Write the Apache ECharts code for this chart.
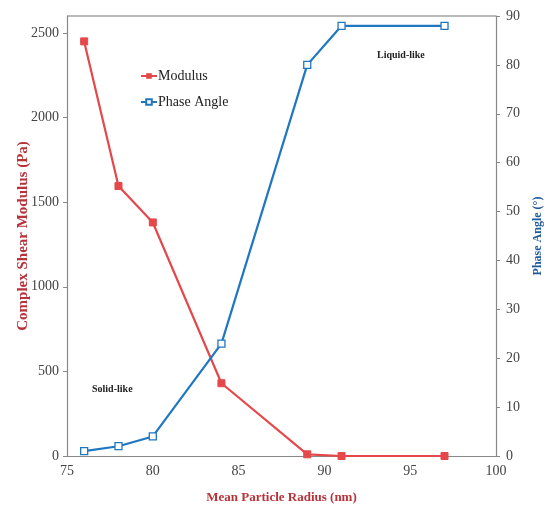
<!DOCTYPE html>
<html>
<head>
<meta charset="utf-8">
<script src="https://cdn.jsdelivr.net/npm/echarts@6/dist/echarts.min.js"></script>
<style>
  html, body { margin: 0; padding: 0; background: #fff; }
  #chart { width: 545px; height: 505px; }
</style>
</head>
<body>
<div id="chart"></div>
<script>
// radius (nm) of each sample
var radius = [76, 78, 80, 84, 89, 91, 97];
// complex shear modulus (Pa)
var modulus = [2450, 1595, 1380, 430, 10, 0, 0];
// phase angle (degrees)
var phaseAngle = [1, 2, 4, 23, 80, 88, 88];

var RED = '#e5484a';
var BLUE = '#1f77c0';
var FONT = '"Liberation Serif", "Times New Roman", serif';

var chart = echarts.init(document.getElementById('chart'));

var modData = radius.map(function (r, i) { return [r, modulus[i]]; });
var phaseData = radius.map(function (r, i) { return [r, phaseAngle[i]]; });

var option = {
    animation: false,
    backgroundColor: '#fff',
    grid: { left: 67, right: 49, top: 16, bottom: 49, containLabel: false, outerBoundsMode: 'none' },
    legend: {
        orient: 'vertical',
        left: 135,
        top: 64,
        itemGap: 12,
        itemWidth: 16,
        itemHeight: 7,
        textStyle: { fontFamily: FONT, fontSize: 14, color: '#222', padding: [0, 0, 0, -4] },
        data: ['Modulus', 'Phase Angle']
    },
    xAxis: {
        type: 'value',
        min: 75,
        max: 100,
        interval: 5,
        name: 'Mean Particle Radius (nm)',
        nameLocation: 'middle',
        nameGap: 35,
        nameMoveOverlap: false,
        nameTextStyle: { fontFamily: FONT, fontSize: 13, fontWeight: 'bold', color: '#b8323a' },
        axisLine: { show: true, lineStyle: { color: '#888', width: 1.2 } },
        axisTick: { show: false },
        axisLabel: { fontFamily: FONT, fontSize: 14, color: '#444', margin: 8 },
        splitLine: { show: false }
    },
    yAxis: [
        {
            type: 'value',
            min: 0,
            max: 2600,
            interval: 500,
            position: 'left',
            name: 'Complex Shear Modulus (Pa)',
            nameLocation: 'middle',
            nameGap: 36,
            nameMoveOverlap: false,
            nameTextStyle: { fontFamily: FONT, fontSize: 15, fontWeight: 'bold', color: '#b8323a' },
            axisLine: { show: true, lineStyle: { color: '#888', width: 1.2 } },
            axisTick: { show: true, length: 4, lineStyle: { color: '#888' } },
            axisLabel: {
                fontFamily: FONT, fontSize: 14, color: '#444', margin: 8, showMaxLabel: false,
                formatter: function (v) { return String(v); }
            },
            splitLine: { show: false }
        },
        {
            type: 'value',
            min: 0,
            max: 90,
            interval: 10,
            position: 'right',
            name: 'Phase Angle (°)',
            nameLocation: 'middle',
            nameGap: 36,
            nameMoveOverlap: false,
            nameTextStyle: { fontFamily: FONT, fontSize: 12, fontWeight: 'bold', color: '#1f5a9a' },
            axisLine: { show: true, lineStyle: { color: '#888', width: 1.2 } },
            axisTick: { show: true, length: 4, lineStyle: { color: '#888' } },
            axisLabel: { fontFamily: FONT, fontSize: 14, color: '#444', margin: 10 },
            splitLine: { show: false }
        }
    ],
    graphic: [
        // top border of the plot box
        { type: 'line', shape: { x1: 67, y1: 16, x2: 496, y2: 16 }, style: { stroke: '#777', lineWidth: 1.2 } },
        { type: 'text', left: 92, top: 384, style: { text: 'Solid-like', font: 'bold 10px ' + FONT, fill: '#222' } },
        { type: 'text', left: 377, top: 50, style: { text: 'Liquid-like', font: 'bold 10px ' + FONT, fill: '#222' } }
    ],
    series: [
        {
            name: 'Modulus',
            type: 'line',
            yAxisIndex: 0,
            data: modData,
            symbol: 'rect',
            symbolSize: 7,
            lineStyle: { color: RED, width: 2.2 },
            itemStyle: { color: RED, borderColor: RED }
        },
        {
            name: 'Phase Angle',
            type: 'line',
            yAxisIndex: 1,
            data: phaseData,
            symbol: 'rect',
            symbolSize: 7,
            lineStyle: { color: BLUE, width: 2.2 },
            itemStyle: { color: '#fff', borderColor: BLUE, borderWidth: 1.3 }
        }
    ]
};

chart.setOption(option);
</script>
</body>
</html>
